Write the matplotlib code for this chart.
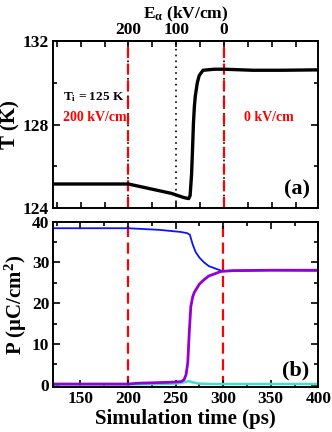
import numpy as np
import matplotlib
matplotlib.use("Agg")
from matplotlib import pyplot as plt
from matplotlib.ticker import MultipleLocator

# temperature trace (panel a)
t_T = [120, 150, 200, 215, 230, 245, 258, 263, 264.5, 266, 267, 268, 269, 270,
       272, 274, 278, 290, 300, 330, 360, 400]
T = [125.15, 125.15, 125.15, 125.0, 124.85, 124.7, 124.5, 124.45, 124.6, 125.6,
     126.8, 128.1, 128.9, 129.4, 130.0, 130.35, 130.6, 130.65, 130.65, 130.6,
     130.6, 130.62]

# polarization components (panel b)
t_blue = [120, 200, 233, 255, 262, 265, 268, 271, 275, 280, 285, 292, 299, 310,
          350, 400]
P_blue = [38.4, 38.4, 38.0, 37.5, 37.2, 36.8, 34.4, 32.6, 31.2, 30.0, 29.1, 28.5,
          27.9, 28.0, 28.1, 28.0]
t_purple = [120, 200, 210, 225, 240, 250, 256, 259, 261, 262.8, 264.5, 266, 268,
            269.7, 275, 280, 285, 292, 297.5, 310, 350, 400]
P_purple = [0.2, 0.2, 0.4, 0.5, 0.6, 0.7, 0.8, 1.3, 2.5, 5.4, 13.4, 19.2, 21.6,
            22.7, 24.7, 25.8, 26.7, 27.3, 27.8, 28.0, 28.1, 28.1]
t_cyan = [120, 200, 240, 255, 260, 264, 268, 275, 290, 400]
P_cyan = [0.1, 0.1, 0.2, 0.4, 0.7, 0.9, 0.6, 0.3, 0.2, 0.2]

field_times = [200, 300]
mid_time = 250
E_ticks = [200, 100, 0]

plt.rcParams['font.family'] = ['Liberation Serif', 'DejaVu Serif']
plt.rcParams['font.weight'] = 'bold'
plt.rcParams['mathtext.fontset'] = 'custom'
plt.rcParams['mathtext.rm'] = 'Liberation Serif:bold'
plt.rcParams['mathtext.it'] = 'Liberation Serif:bold'
plt.rcParams['mathtext.bf'] = 'Liberation Serif:bold'
plt.rcParams['axes.linewidth'] = 1.4

fig = plt.figure(figsize=(3.32, 4.32), dpi=100)
ax1 = fig.add_axes([0.1606, 0.5185, 0.7982, 0.3865])
ax2 = fig.add_axes([0.1606, 0.1035, 0.7982, 0.3833])

xlim = (121.5, 398.5)

# panel a
for xv in field_times + [mid_time]:
    ax1.axvline(xv, color='black', linestyle=(0, (1, 2.5)), linewidth=1.2)
for xv in field_times:
    ax1.axvline(xv, color='red', linestyle=(0, (5, 2.5)), linewidth=1.6)
ax1.plot(t_T, T, color='black', linewidth=2.4)
ax1.set_xlim(*xlim)
ax1.set_ylim(124, 132)
ax1.set_yticks([124, 128, 132])
ax1.yaxis.set_minor_locator(MultipleLocator(2))
ax1.xaxis.set_major_locator(MultipleLocator(25))
ax1.tick_params(axis='x', labelbottom=False)
ax1.set_ylabel('T (K)', fontsize=15, fontweight='bold', labelpad=2)
ax1.text(132, 129.15, r'T$_\mathrm{i}$ = 125 K', fontsize=9.5, fontweight='bold')
ax1.text(132, 128.15, '200 kV/cm', color='red', fontsize=10, fontweight='bold')
ax1.text(321, 128.15, '0 kV/cm', color='red', fontsize=10, fontweight='bold')
ax1.text(390, 124.65, '(a)', fontsize=16, fontweight='bold', ha='right')

sec = ax1.secondary_xaxis('top', functions=(lambda t: 600 - 2 * t, lambda e: (600 - e) / 2))
sec.set_xticks(E_ticks)
sec.set_xticklabels([str(e) for e in E_ticks])
sec.tick_params(length=0, labelsize=12.5, pad=2)
sec.set_xlabel(r'E$_\alpha$ (kV/cm)', fontsize=12.5, fontweight='bold', labelpad=3)

# panel b
for xv in field_times:
    ax2.axvline(xv, color='red', linestyle=(0, (5, 2.5)), linewidth=1.6, zorder=1)
ax2.plot(t_cyan, P_cyan, color='#40e0d0', linewidth=1.8)
ax2.plot(t_blue, P_blue, color='#0a14ff', linewidth=1.3)
ax2.plot(t_purple, P_purple, color='#9400d3', linewidth=2.0)
ax2.set_xlim(*xlim)
ax2.set_ylim(-0.6, 40)
ax2.set_yticks([0, 10, 20, 30, 40])
ax2.yaxis.set_minor_locator(MultipleLocator(5))
ax2.set_xticks([150, 200, 250, 300, 350, 400])
ax2.xaxis.set_minor_locator(MultipleLocator(25))
ax2.set_xlabel('Simulation time (ps)', fontsize=15, fontweight='bold', labelpad=1)
ax2.set_ylabel(r'P ($\mu$C/cm$^2$)', fontsize=15, fontweight='bold', labelpad=2)
ax2.text(390, 2.2, '(b)', fontsize=16, fontweight='bold', ha='right')

for ax in (ax1, ax2):
    ax.tick_params(which='both', direction='in', top=True, right=True,
                   width=1.2, labelsize=12.5, pad=3)
    ax.tick_params(which='major', length=5)
    ax.tick_params(which='minor', length=3)
ax1.tick_params(axis='x', which='major', length=4)

fig.savefig('out.png', dpi=100)
